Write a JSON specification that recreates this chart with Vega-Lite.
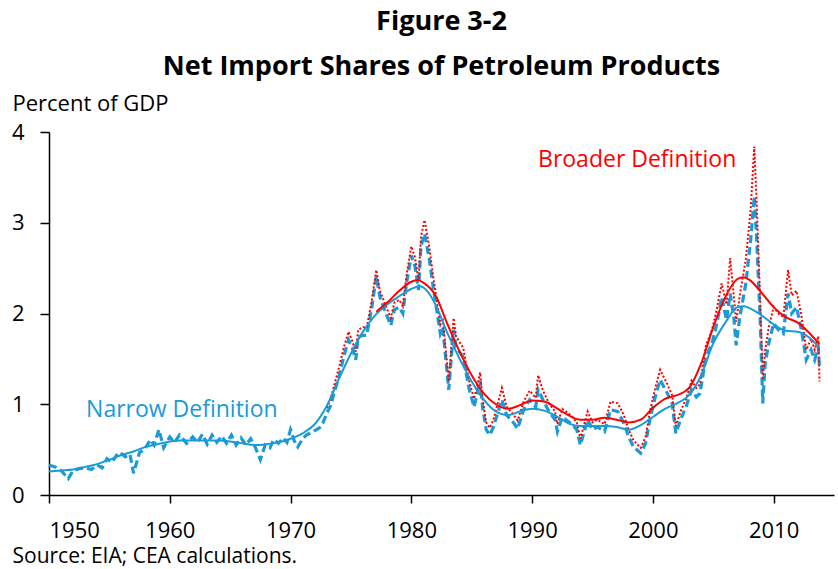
{
  "$schema": "https://vega.github.io/schema/vega-lite/v6.json",
  "width": 785,
  "height": 363,
  "autosize": {"type": "none"},
  "padding": {"left": 49, "top": 132, "right": 4, "bottom": 74},
  "background": "white",
  "config": {
    "view": {"stroke": null},
    "font": "Open Sans",
    "axis": {
      "grid": false,
      "domainColor": "black",
      "domainWidth": 1.5,
      "tickColor": "black",
      "tickWidth": 1.5,
      "labelColor": "black",
      "labelFontSize": 22,
      "titleColor": "black",
      "titleFontSize": 22,
      "titleFontWeight": "normal"
    }
  },
  "title": {
    "text": ["Figure 3-2", "Net Import Shares of Petroleum Products"],
    "fontSize": 27,
    "fontWeight": "bold",
    "lineHeight": 45,
    "anchor": "middle",
    "offset": 11,
    "color": "black"
  },
  "datasets": {
    "narrow": [
      {"t":1950.0,"v":0.33},{"t":1950.5,"v":0.31},{"t":1951.0,"v":0.27},{"t":1951.6,"v":0.18},{"t":1952.0,"v":0.27},{"t":1952.5,"v":0.29},{"t":1953.0,"v":0.30},{"t":1953.5,"v":0.28},{"t":1954.0,"v":0.33},{"t":1954.4,"v":0.30},{"t":1954.8,"v":0.40},{"t":1955.2,"v":0.36},{"t":1955.6,"v":0.44},{"t":1955.9,"v":0.47},{"t":1956.3,"v":0.42},{"t":1956.7,"v":0.45},{"t":1957.0,"v":0.24},{"t":1957.5,"v":0.47},{"t":1957.9,"v":0.50},{"t":1958.4,"v":0.61},{"t":1958.7,"v":0.55},{"t":1959.1,"v":0.72},{"t":1959.5,"v":0.52},{"t":1960.0,"v":0.64},{"t":1960.4,"v":0.58},{"t":1960.8,"v":0.66},{"t":1961.4,"v":0.57},{"t":1961.9,"v":0.64},{"t":1962.3,"v":0.58},{"t":1962.7,"v":0.67},{"t":1963.1,"v":0.56},{"t":1963.5,"v":0.66},{"t":1963.9,"v":0.58},{"t":1964.3,"v":0.65},{"t":1964.7,"v":0.57},{"t":1965.1,"v":0.66},{"t":1965.5,"v":0.55},{"t":1965.9,"v":0.63},{"t":1966.3,"v":0.55},{"t":1966.7,"v":0.62},{"t":1967.1,"v":0.52},{"t":1967.5,"v":0.39},{"t":1967.9,"v":0.55},{"t":1968.3,"v":0.52},{"t":1968.6,"v":0.61},{"t":1969.0,"v":0.57},{"t":1969.4,"v":0.63},{"t":1969.7,"v":0.58},{"t":1970.0,"v":0.72},{"t":1970.3,"v":0.60},{"t":1970.6,"v":0.53},{"t":1971.0,"v":0.62},{"t":1971.3,"v":0.66},{"t":1971.6,"v":0.68},{"t":1972.0,"v":0.71},{"t":1972.4,"v":0.74},{"t":1972.7,"v":0.80},{"t":1973.0,"v":0.90},{"t":1973.3,"v":0.98},{"t":1973.6,"v":1.12},{"t":1974.0,"v":1.30},{"t":1974.4,"v":1.52},{"t":1974.8,"v":1.71},{"t":1975.1,"v":1.63},{"t":1975.4,"v":1.49},{"t":1975.6,"v":1.74},{"t":1976.0,"v":1.76},{"t":1976.3,"v":1.76},{"t":1976.7,"v":2.04},{"t":1977.1,"v":2.41},{"t":1977.4,"v":2.18},{"t":1977.9,"v":2.00},{"t":1978.3,"v":1.87},{"t":1978.6,"v":2.04},{"t":1979.0,"v":2.07},{"t":1979.3,"v":2.00},{"t":1979.6,"v":2.33},{"t":1980.0,"v":2.64},{"t":1980.3,"v":2.52},{"t":1980.6,"v":2.26},{"t":1980.8,"v":2.74},{"t":1981.1,"v":2.88},{"t":1981.5,"v":2.59},{"t":1981.8,"v":2.30},{"t":1982.1,"v":2.04},{"t":1982.4,"v":1.78},{"t":1982.6,"v":1.85},{"t":1983.1,"v":1.16},{"t":1983.5,"v":1.82},{"t":1983.7,"v":1.63},{"t":1984.3,"v":1.52},{"t":1984.8,"v":1.16},{"t":1985.2,"v":0.97},{"t":1985.7,"v":1.26},{"t":1985.9,"v":0.97},{"t":1986.2,"v":0.72},{"t":1986.5,"v":0.66},{"t":1986.8,"v":0.75},{"t":1987.5,"v":1.05},{"t":1987.9,"v":0.88},{"t":1988.5,"v":0.79},{"t":1988.8,"v":0.73},{"t":1989.3,"v":0.94},{"t":1989.8,"v":1.05},{"t":1990.3,"v":0.97},{"t":1990.5,"v":1.16},{"t":1990.9,"v":1.05},{"t":1991.4,"v":0.92},{"t":1991.9,"v":0.83},{"t":1992.1,"v":0.70},{"t":1992.5,"v":0.86},{"t":1993.2,"v":0.79},{"t":1993.7,"v":0.72},{"t":1994.0,"v":0.55},{"t":1994.6,"v":0.83},{"t":1995.0,"v":0.72},{"t":1995.4,"v":0.75},{"t":1996.0,"v":0.70},{"t":1996.5,"v":0.94},{"t":1997.1,"v":0.92},{"t":1997.6,"v":0.79},{"t":1998.0,"v":0.64},{"t":1998.4,"v":0.53},{"t":1999.0,"v":0.46},{"t":1999.4,"v":0.57},{"t":1999.8,"v":0.86},{"t":2000.2,"v":1.08},{"t":2000.6,"v":1.27},{"t":2001.2,"v":1.12},{"t":2001.6,"v":1.01},{"t":2001.9,"v":0.68},{"t":2002.3,"v":0.83},{"t":2002.8,"v":0.99},{"t":2003.2,"v":1.16},{"t":2003.6,"v":1.08},{"t":2003.9,"v":1.12},{"t":2004.4,"v":1.52},{"t":2004.9,"v":1.67},{"t":2005.3,"v":1.89},{"t":2005.7,"v":2.18},{"t":2006.1,"v":1.93},{"t":2006.4,"v":2.22},{"t":2006.7,"v":1.96},{"t":2006.9,"v":1.65},{"t":2007.2,"v":1.96},{"t":2007.7,"v":2.33},{"t":2008.1,"v":2.81},{"t":2008.4,"v":3.29},{"t":2008.6,"v":2.81},{"t":2008.9,"v":1.89},{"t":2009.1,"v":1.01},{"t":2009.3,"v":1.45},{"t":2009.6,"v":1.67},{"t":2010.0,"v":1.89},{"t":2010.4,"v":1.82},{"t":2010.8,"v":1.78},{"t":2011.2,"v":2.22},{"t":2011.5,"v":2.00},{"t":2011.9,"v":2.07},{"t":2012.3,"v":1.82},{"t":2012.7,"v":1.49},{"t":2013.1,"v":1.60},{"t":2013.4,"v":1.49},{"t":2013.7,"v":1.63},{"t":2013.8,"v":1.40}
    ],
    "broader": [
      {"t":1973.0,"v":0.96},{"t":1973.3,"v":1.05},{"t":1973.6,"v":1.20},{"t":1974.0,"v":1.40},{"t":1974.4,"v":1.62},{"t":1974.8,"v":1.80},{"t":1975.1,"v":1.70},{"t":1975.4,"v":1.58},{"t":1975.6,"v":1.82},{"t":1976.0,"v":1.85},{"t":1976.3,"v":1.84},{"t":1976.7,"v":2.12},{"t":1977.1,"v":2.48},{"t":1977.4,"v":2.25},{"t":1977.9,"v":2.08},{"t":1978.3,"v":1.95},{"t":1978.6,"v":2.12},{"t":1979.0,"v":2.15},{"t":1979.3,"v":2.08},{"t":1979.6,"v":2.42},{"t":1980.0,"v":2.74},{"t":1980.3,"v":2.62},{"t":1980.6,"v":2.36},{"t":1980.8,"v":2.85},{"t":1981.1,"v":3.03},{"t":1981.5,"v":2.72},{"t":1981.8,"v":2.42},{"t":1982.1,"v":2.15},{"t":1982.4,"v":1.88},{"t":1982.6,"v":1.95},{"t":1983.1,"v":1.25},{"t":1983.5,"v":1.95},{"t":1983.7,"v":1.75},{"t":1984.3,"v":1.62},{"t":1984.8,"v":1.25},{"t":1985.2,"v":1.06},{"t":1985.7,"v":1.35},{"t":1985.9,"v":1.06},{"t":1986.2,"v":0.80},{"t":1986.5,"v":0.74},{"t":1986.8,"v":0.83},{"t":1987.5,"v":1.18},{"t":1987.9,"v":0.97},{"t":1988.5,"v":0.88},{"t":1988.8,"v":0.82},{"t":1989.3,"v":1.03},{"t":1989.8,"v":1.15},{"t":1990.3,"v":1.07},{"t":1990.5,"v":1.32},{"t":1990.9,"v":1.15},{"t":1991.4,"v":1.01},{"t":1991.9,"v":0.92},{"t":1992.1,"v":0.78},{"t":1992.5,"v":0.95},{"t":1993.2,"v":0.88},{"t":1993.7,"v":0.80},{"t":1994.0,"v":0.62},{"t":1994.6,"v":0.92},{"t":1995.0,"v":0.80},{"t":1995.4,"v":0.83},{"t":1996.0,"v":0.78},{"t":1996.5,"v":1.03},{"t":1997.1,"v":1.01},{"t":1997.6,"v":0.88},{"t":1998.0,"v":0.72},{"t":1998.4,"v":0.60},{"t":1999.0,"v":0.52},{"t":1999.4,"v":0.64},{"t":1999.8,"v":0.95},{"t":2000.2,"v":1.18},{"t":2000.6,"v":1.38},{"t":2001.2,"v":1.22},{"t":2001.6,"v":1.10},{"t":2001.9,"v":0.76},{"t":2002.3,"v":0.92},{"t":2002.8,"v":1.08},{"t":2003.2,"v":1.26},{"t":2003.6,"v":1.18},{"t":2003.9,"v":1.22},{"t":2004.4,"v":1.65},{"t":2004.9,"v":1.82},{"t":2005.3,"v":2.05},{"t":2005.7,"v":2.33},{"t":2006.1,"v":2.10},{"t":2006.4,"v":2.61},{"t":2006.7,"v":2.20},{"t":2006.9,"v":1.91},{"t":2007.2,"v":2.20},{"t":2007.7,"v":2.60},{"t":2008.1,"v":3.15},{"t":2008.4,"v":3.84},{"t":2008.6,"v":3.20},{"t":2008.9,"v":2.10},{"t":2009.1,"v":1.27},{"t":2009.3,"v":1.60},{"t":2009.6,"v":1.85},{"t":2010.0,"v":2.07},{"t":2010.4,"v":2.00},{"t":2010.8,"v":1.96},{"t":2011.2,"v":2.48},{"t":2011.5,"v":2.20},{"t":2011.9,"v":2.25},{"t":2012.3,"v":1.98},{"t":2012.7,"v":1.60},{"t":2013.1,"v":1.72},{"t":2013.4,"v":1.60},{"t":2013.7,"v":1.75},{"t":2013.8,"v":1.25}
    ],
    "narrowSmooth": [
      {"t":1950,"v":0.26},{"t":1951,"v":0.27},{"t":1952,"v":0.28},{"t":1953,"v":0.31},{"t":1954,"v":0.34},{"t":1955,"v":0.39},{"t":1956,"v":0.44},{"t":1957,"v":0.48},{"t":1958,"v":0.53},{"t":1959,"v":0.56},{"t":1960,"v":0.59},{"t":1961,"v":0.60},{"t":1962,"v":0.60},{"t":1963,"v":0.60},{"t":1964,"v":0.60},{"t":1965,"v":0.59},{"t":1966,"v":0.57},{"t":1967,"v":0.55},{"t":1968,"v":0.56},{"t":1969,"v":0.58},{"t":1970,"v":0.62},{"t":1971,"v":0.68},{"t":1972,"v":0.78},{"t":1973,"v":0.98},{"t":1974,"v":1.28},{"t":1975,"v":1.56},{"t":1976,"v":1.80},{"t":1977,"v":1.98},{"t":1978,"v":2.10},{"t":1979,"v":2.19},{"t":1980,"v":2.27},{"t":1980.7,"v":2.30},{"t":1981.3,"v":2.25},{"t":1982,"v":2.10},{"t":1983,"v":1.78},{"t":1984,"v":1.50},{"t":1985,"v":1.25},{"t":1986,"v":1.05},{"t":1987,"v":0.92},{"t":1988,"v":0.88},{"t":1989,"v":0.92},{"t":1990,"v":0.95},{"t":1991,"v":0.93},{"t":1992,"v":0.87},{"t":1993,"v":0.79},{"t":1994,"v":0.76},{"t":1995,"v":0.76},{"t":1996,"v":0.76},{"t":1997,"v":0.75},{"t":1998,"v":0.72},{"t":1999,"v":0.77},{"t":2000,"v":0.86},{"t":2001,"v":0.95},{"t":2002,"v":1.01},{"t":2003,"v":1.10},{"t":2004,"v":1.32},{"t":2005,"v":1.67},{"t":2006,"v":1.90},{"t":2007,"v":2.07},{"t":2007.5,"v":2.08},{"t":2008,"v":2.06},{"t":2009,"v":1.98},{"t":2010,"v":1.88},{"t":2011,"v":1.81},{"t":2012,"v":1.80},{"t":2013,"v":1.73},{"t":2013.8,"v":1.62}
    ],
    "broaderSmooth": [
      {"t":1977.1,"v":2.02},{"t":1978,"v":2.12},{"t":1979,"v":2.25},{"t":1980,"v":2.35},{"t":1980.5,"v":2.37},{"t":1981,"v":2.34},{"t":1982,"v":2.20},{"t":1983,"v":1.88},{"t":1984,"v":1.58},{"t":1985,"v":1.32},{"t":1986,"v":1.12},{"t":1987,"v":1.00},{"t":1988,"v":0.95},{"t":1989,"v":0.99},{"t":1990,"v":1.04},{"t":1991,"v":1.03},{"t":1992,"v":0.96},{"t":1993,"v":0.88},{"t":1994,"v":0.83},{"t":1995,"v":0.83},{"t":1996,"v":0.85},{"t":1997,"v":0.83},{"t":1998,"v":0.80},{"t":1999,"v":0.83},{"t":2000,"v":0.96},{"t":2001,"v":1.06},{"t":2002,"v":1.10},{"t":2003,"v":1.18},{"t":2004,"v":1.45},{"t":2005,"v":1.85},{"t":2006,"v":2.18},{"t":2007,"v":2.38},{"t":2007.5,"v":2.40},{"t":2008,"v":2.37},{"t":2009,"v":2.23},{"t":2010,"v":2.07},{"t":2011,"v":1.96},{"t":2012,"v":1.90},{"t":2013,"v":1.78},{"t":2013.8,"v":1.66}
    ],
    "narrowLabel": [{"t":1961.0,"v":0.94,"label":"Narrow Definition"}],
    "broaderLabel": [{"t":1998.7,"v":3.69,"label":"Broader Definition"}]
  },
  "encoding": {
    "x": {
      "field": "t",
      "type": "quantitative",
      "scale": {"domain": [1950, 2015], "nice": false, "zero": false},
      "axis": {
        "values": [1950, 1960, 1970, 1980, 1990, 2000, 2010],
        "format": "d",
        "tickSize": 8,
        "labelPadding": 17,
        "title": "Source: EIA; CEA calculations.",
        "titleFontSize": 21,
        "titleAnchor": "start",
        "titleAlign": "left",
        "titleBaseline": "alphabetic",
        "titleX": -37,
        "titleY": 67
      }
    },
    "y": {
      "field": "v",
      "type": "quantitative",
      "scale": {"domain": [0, 4], "nice": false},
      "axis": {
        "values": [0, 1, 2, 3, 4],
        "tickSize": 9,
        "labelPadding": 16,
        "title": "Percent of GDP",
        "titleAngle": 0,
        "titleAlign": "left",
        "titleBaseline": "alphabetic",
        "titleX": -37,
        "titleY": -22
      }
    }
  },
  "layer": [
    {"data": {"name": "narrow"}, "mark": {"type": "line", "color": "#1a9bd7", "strokeWidth": 3.2, "strokeDash": [8, 4]}},
    {"data": {"name": "broader"}, "mark": {"type": "line", "color": "#ff0000", "strokeWidth": 2, "strokeDash": [2, 2]}},
    {"data": {"name": "narrowSmooth"}, "mark": {"type": "line", "color": "#1a9bd7", "strokeWidth": 2, "interpolate": "monotone"}},
    {"data": {"name": "broaderSmooth"}, "mark": {"type": "line", "color": "#ff0000", "strokeWidth": 2, "interpolate": "monotone"}},
    {"data": {"name": "narrowLabel"}, "mark": {"type": "text", "color": "#1a9bd7", "fontSize": 23, "align": "center", "baseline": "middle"}, "encoding": {"text": {"field": "label"}}},
    {"data": {"name": "broaderLabel"}, "mark": {"type": "text", "color": "#ff0000", "fontSize": 23, "align": "center", "baseline": "middle"}, "encoding": {"text": {"field": "label"}}}
  ]
}
